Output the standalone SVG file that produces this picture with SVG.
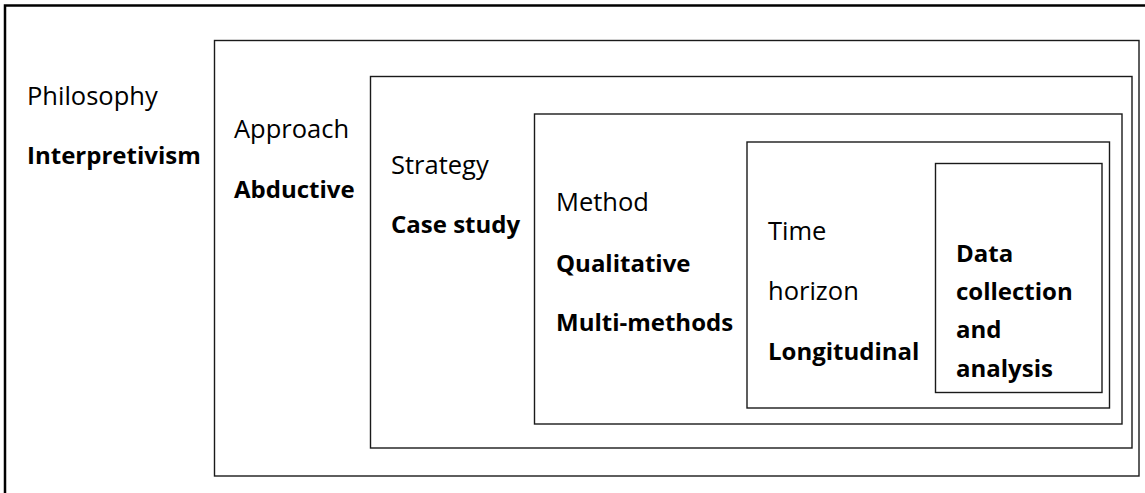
<svg xmlns="http://www.w3.org/2000/svg" width="1145" height="493" viewBox="0 0 1145 493">
  <style>
    .frame { fill: none; stroke: #000; stroke-width: 2.5; }
    .box { fill: none; stroke: #1a1a1a; stroke-width: 1.4; }
    text { font-family: "Open Sans", "Noto Sans", "Liberation Sans", sans-serif; font-size: 25.5px; fill: #000; }
    .b { font-weight: bold; font-size: 24px; }
  </style>
  <rect width="1145" height="493" fill="#fff"/>

  <!-- outer frame, runs past the right and bottom edges -->
  <rect class="frame" x="5" y="5.5" width="1160" height="510"/>

  <g id="philosophy">
    <text x="27" y="105">Philosophy</text>
    <text class="b" x="27" y="164">Interpretivism</text>
  </g>

  <g id="approach">
    <rect class="box" x="214.5" y="40.5" width="924.5" height="435.5"/>
    <text x="234" y="138">Approach</text>
    <text class="b" x="234" y="198">Abductive</text>
  </g>

  <g id="strategy">
    <rect class="box" x="370.5" y="76.5" width="761.5" height="371.5"/>
    <text x="391" y="174">Strategy</text>
    <text class="b" x="391" y="233">Case study</text>
  </g>

  <g id="method">
    <rect class="box" x="534.5" y="114" width="587.5" height="310"/>
    <text x="556" y="211">Method</text>
    <text class="b" x="556" y="272">Qualitative</text>
    <text class="b" x="556" y="331">Multi-methods</text>
  </g>

  <g id="time-horizon">
    <rect class="box" x="747" y="142" width="362.5" height="266"/>
    <text x="768" y="240">Time</text>
    <text x="768" y="300">horizon</text>
    <text class="b" x="768" y="360">Longitudinal</text>
  </g>

  <g id="data-collection">
    <rect class="box" x="935.5" y="163.5" width="166.5" height="229"/>
    <text class="b" x="956" y="262">Data</text>
    <text class="b" x="956" y="300">collection</text>
    <text class="b" x="956" y="338">and</text>
    <text class="b" x="956" y="377">analysis</text>
  </g>

  <g id="connectors"></g>
</svg>
